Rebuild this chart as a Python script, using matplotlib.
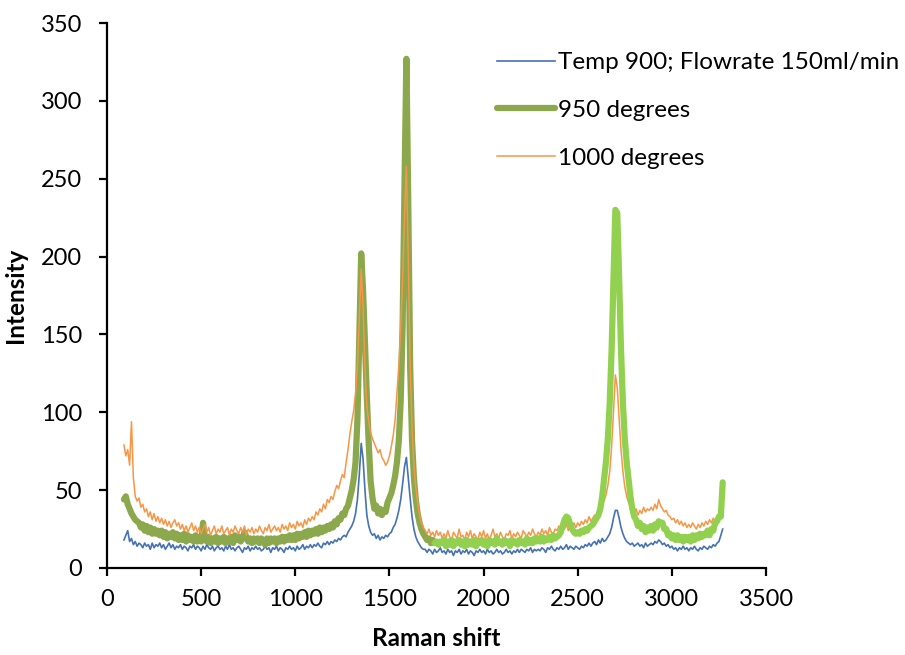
import numpy as np
import matplotlib
matplotlib.use("Agg")
import matplotlib.pyplot as plt

# Raman shift grid (cm^-1)
raman_shift = np.arange(90, 3271, 10)

# Series values
temp900 = [
    18, 21, 24, 17, 19, 15, 17, 14, 16, 15,
    13, 16, 14, 15, 12, 16, 13, 15, 14, 16,
    13, 15, 12, 14, 16, 13, 15, 12, 14, 13,
    15, 12, 14, 13, 11, 14, 13, 15, 12, 14,
    13, 11, 14, 12, 15, 13, 12, 14, 11, 13,
    14, 12, 13, 11, 14, 12, 15, 12, 13, 11,
    13, 14, 12, 10, 13, 12, 14, 11, 13, 12,
    14, 12, 13, 11, 12, 14, 12, 13, 10, 13,
    12, 14, 11, 13, 12, 10, 13, 12, 14, 12,
    13, 11, 14, 12, 13, 15, 12, 14, 13, 15,
    13, 15, 14, 16, 14, 13, 16, 15, 17, 15,
    17, 16, 18, 17, 19, 18, 20, 21, 20, 23,
    25, 27, 30, 35, 44, 60, 80, 70, 50, 34,
    27, 23, 21, 22, 19, 21, 18, 20, 19, 21,
    20, 22, 23, 26, 28, 32, 37, 44, 54, 65,
    71, 58, 45, 33, 25, 20, 17, 15, 13, 12,
    12, 10, 12, 11, 9, 12, 10, 11, 13, 10,
    11, 9, 12, 10, 11, 8, 11, 10, 12, 9,
    11, 10, 12, 9, 11, 10, 8, 11, 10, 12,
    10, 11, 9, 12, 10, 11, 9, 10, 12, 10,
    11, 9, 10, 12, 10, 11, 9, 11, 10, 12,
    10, 12, 11, 10, 12, 11, 13, 10, 12, 11,
    12, 11, 13, 12, 10, 13, 12, 14, 12, 11,
    13, 12, 14, 12, 13, 15, 12, 14, 13, 12,
    14, 13, 12, 14, 13, 15, 14, 16, 14, 16,
    17, 15, 18, 16, 19, 17, 18, 20, 22, 26,
    32, 37, 37, 32, 26, 22, 19, 17, 16, 15,
    16, 14, 15, 16, 14, 15, 13, 16, 14, 15,
    16, 15, 17, 16, 18, 17, 15, 16, 14, 15,
    13, 14, 12, 13, 11, 13, 12, 14, 12, 13,
    11, 13, 12, 14, 12, 11, 13, 12, 14, 13,
    12, 14, 13, 15, 14, 16, 17, 21, 25,
]

deg950 = [
    44, 46, 41, 38, 35, 33, 31, 30, 29, 26,
    28, 24, 27, 23, 26, 22, 25, 22, 24, 21,
    24, 20, 23, 19, 22, 20, 23, 19, 22, 18,
    21, 18, 22, 17, 21, 18, 20, 17, 21, 17,
    20, 17, 29, 19, 17, 20, 16, 19, 17, 20,
    16, 19, 17, 20, 16, 19, 17, 20, 16, 21,
    18, 20, 17, 19, 23, 20, 17, 19, 16, 19,
    17, 19, 16, 19, 17, 15, 19, 16, 19, 17,
    19, 16, 19, 17, 20, 17, 20, 18, 21, 18,
    21, 18, 22, 19, 22, 20, 23, 20, 24, 21,
    24, 22, 25, 22, 26, 23, 26, 24, 27, 25,
    28, 26, 30, 28, 32, 31, 35, 34, 38, 40,
    45, 50, 57, 68, 95, 150, 202, 178, 145, 110,
    80, 56, 45, 38, 40, 35, 38, 34, 37, 36,
    42, 45, 48, 53, 59, 68, 82, 108, 155, 245,
    327, 235, 130, 82, 58, 44, 35, 29, 25, 22,
    20, 18, 19, 16, 18, 16, 17, 15, 17, 16,
    18, 14, 17, 15, 18, 14, 17, 16, 18, 15,
    17, 14, 18, 15, 17, 15, 18, 14, 17, 16,
    18, 15, 17, 14, 18, 16, 17, 15, 19, 16,
    17, 15, 18, 16, 17, 14, 18, 16, 17, 15,
    18, 16, 17, 15, 19, 16, 18, 16, 19, 17,
    19, 17, 20, 17, 19, 18, 20, 18, 21, 19,
    20, 21, 23, 27, 31, 33, 32, 28, 25, 23,
    22, 23, 22, 24, 23, 25, 24, 26, 27, 28,
    30, 32, 34, 38, 46, 57, 68, 83, 106, 140,
    186, 230, 228, 186, 140, 106, 83, 68, 57, 46,
    38, 33, 31, 27, 29, 25, 27, 23, 26, 24,
    27, 24, 28, 26, 30, 29, 29, 25, 25, 21,
    22, 19, 21, 18, 21, 18, 20, 17, 20, 18,
    20, 17, 21, 18, 21, 19, 22, 20, 22, 21,
    24, 21, 25, 24, 29, 30, 33, 33, 55,
]

deg1000 = [
    79, 72, 76, 66, 94, 58, 46, 43, 45, 39,
    41, 36, 38, 33, 36, 31, 35, 30, 33, 29,
    32, 28, 31, 27, 30, 26, 29, 31, 27, 29,
    25, 28, 24, 27, 23, 26, 29, 24, 27, 23,
    26, 22, 25, 28, 23, 26, 21, 24, 27, 22,
    25, 23, 27, 22, 24, 26, 21, 25, 23, 27,
    24, 22, 26, 23, 27, 21, 25, 23, 26, 22,
    25, 23, 27, 24, 22, 26, 24, 28, 23, 25,
    27, 24, 26, 23, 28, 25, 27, 24, 29, 26,
    28, 25, 30, 27, 29, 26, 31, 28, 32, 30,
    33, 31, 36, 34, 38, 36, 41, 38, 44, 42,
    46, 44, 49, 53, 51, 56, 60, 58, 68, 76,
    86, 94, 101, 112, 130, 160, 192, 168, 128, 104,
    94, 87, 83, 80, 77, 74, 76, 71, 69, 66,
    68, 72, 78, 85, 95, 112, 130, 155, 185, 225,
    258, 200, 130, 90, 66, 52, 42, 34, 29, 26,
    24, 22, 25, 21, 23, 20, 24, 21, 23, 19,
    22, 19, 24, 20, 18, 23, 21, 19, 25, 20,
    21, 18, 23, 20, 24, 19, 22, 20, 18, 23,
    20, 24, 19, 22, 18, 21, 25, 20, 22, 19,
    23, 20, 18, 22, 21, 24, 19, 22, 20, 23,
    21, 19, 24, 22, 20, 23, 21, 25, 22, 20,
    23, 21, 25, 22, 24, 21, 26, 23, 22, 25,
    24, 27, 23, 26, 25, 28, 24, 27, 25, 29,
    26, 29, 27, 30, 28, 31, 29, 33, 30, 32,
    34, 32, 36, 38, 40, 43, 47, 53, 62, 78,
    100, 124, 116, 96, 76, 62, 52, 46, 42, 39,
    37, 35, 38, 34, 37, 35, 39, 36, 38, 37,
    39, 37, 41, 38, 44, 40, 38, 36, 37, 34,
    33, 31, 32, 29, 31, 28, 30, 27, 29, 26,
    28, 26, 29, 27, 25, 28, 26, 29, 27, 30,
    28, 31, 29, 32, 30, 33, 31, 35, 44,
]

series_labels = ["Temp 900; Flowrate 150ml/min", "950 degrees", "1000 degrees"]
x_ticks = [0, 500, 1000, 1500, 2000, 2500, 3000, 3500]
y_ticks = [0, 50, 100, 150, 200, 250, 300, 350]

plt.rcParams["font.family"] = ["Lato", "DejaVu Sans"]

fig = plt.figure(figsize=(9.05, 6.55), dpi=100)
ax = fig.add_axes([107 / 905, 1 - 568 / 655, (766 - 107) / 905, (568 - 23) / 655])

x = np.asarray(raman_shift)
b = np.asarray(temp900)
g = np.asarray(deg950)
o = np.asarray(deg1000)
first = x <= 1740
second = x >= 1740

l1, = ax.plot(x, b, color="#4672B4", lw=1.2, zorder=2, label=series_labels[0])
l2, = ax.plot(x[first], g[first], color="#8BA84C", lw=4.5, zorder=3,
              solid_joinstyle="round", solid_capstyle="round", label=series_labels[1])
l3, = ax.plot(x, o, color="#F79646", lw=1.1, zorder=4, label=series_labels[2])
ax.plot(x[second], g[second], color="#92D050", lw=4.5, zorder=5,
        solid_joinstyle="round", solid_capstyle="round")

ax.set_xlim(0, 3500)
ax.set_ylim(0, 350)
ax.set_xticks(x_ticks)
ax.set_yticks(y_ticks)
for s in ["top", "right"]:
    ax.spines[s].set_visible(False)
for s in ["left", "bottom"]:
    ax.spines[s].set_linewidth(1.6)
    ax.spines[s].set_color("black")
ax.tick_params(axis="both", direction="out", length=6, width=1.6, labelsize=17)
ax.tick_params(axis="x", pad=9)
ax.tick_params(axis="y", pad=12)

ax.set_xlabel("Raman shift", fontsize=17.5, fontweight="bold", labelpad=12)
ax.set_ylabel("Intensity", fontsize=17.5, fontweight="bold", labelpad=10)

leg = ax.legend(handles=[l1, l2, l3], loc="upper left",
                bbox_to_anchor=(497 / 905, 1 - 52 / 655), bbox_transform=fig.transFigure,
                frameon=False, fontsize=17.5, handlelength=2.4, handletextpad=0.12,
                labelspacing=1.1, borderpad=0, borderaxespad=0)

fig.savefig("out.png", dpi=100)
